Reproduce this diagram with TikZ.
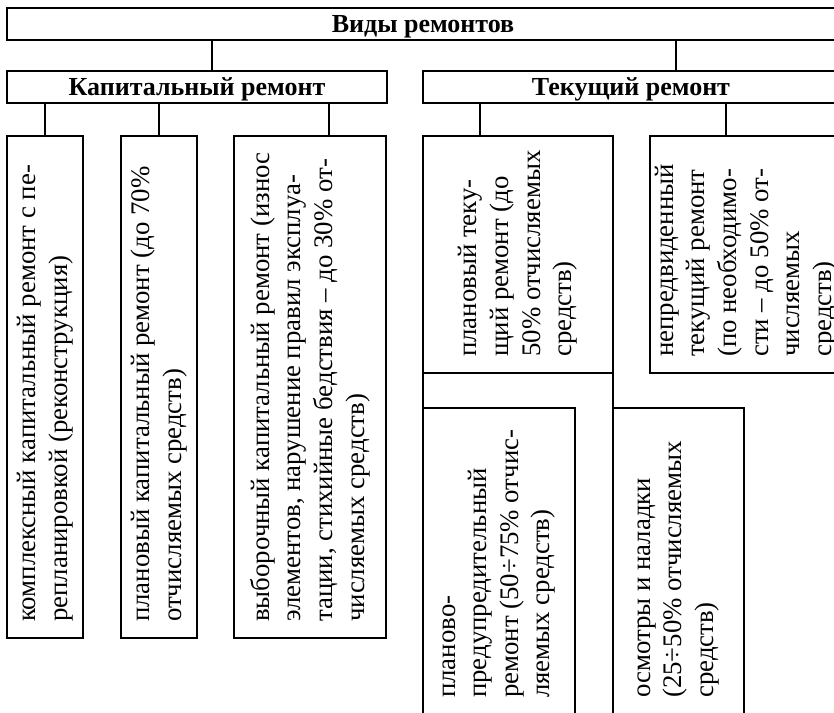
\documentclass[tikz,border=0pt]{standalone}
\usepackage{fontspec}
\setmainfont{Liberation Serif}
\newlength{\du}
\setlength{\du}{1pt}
\tikzset{
  blk/.style={draw, line width=2\du, inner sep=0pt, outer sep=0pt},
  ttl/.style={blk, text depth=0pt, font=\fontsize{26}{30}\selectfont\bfseries},
  vtxt/.style={rotate=90, anchor=west, align=left, inner sep=0pt,
    font=\fontsize{26.8}{31.6}\selectfont},
  con/.style={line width=2\du}
}

\begin{document}
\begin{tikzpicture}
\useasboundingbox (0\du,0\du) rectangle (834\du,712\du);
\clip (0\du,0\du) rectangle (834\du,712\du);
% titles
\node[ttl, minimum width=832\du, minimum height=32\du] (vid) at (423\du,688\du) {Виды ремонтов};
\node[ttl, minimum width=380\du, minimum height=32\du] (kap) at (197\du,625\du) {Капитальный ремонт};
\node[ttl, minimum width=416\du, minimum height=32\du] (tek) at (631\du,625\du) {Текущий ремонт};
% capital repair boxes
\node[blk, minimum width=76\du, minimum height=502\du] (k1) at (45\du,325\du) {};
\node[blk, minimum width=76\du, minimum height=502\du] (k2) at (159\du,325\du) {};
\node[blk, minimum width=152\du, minimum height=502\du] (k3) at (310\du,325\du) {};
% current repair boxes
\node[blk, minimum width=190\du, minimum height=237\du] (k4) at (518\du,457.5\du) {};
\node[blk, minimum width=192\du, minimum height=237\du] (k5) at (746\du,457.5\du) {};
\node[blk, minimum width=152\du, minimum height=306\du] (k6) at (499\du,151\du) {};
\node[blk, minimum width=131\du, minimum height=306\du] (k7) at (678.5\du,151\du) {};
% texts
\node[vtxt] (k1t) at ([yshift=16\du]k1.south) {комплексный капитальный ремонт с пе-\\репланировкой (реконструкция)};
\node[vtxt] (k2t) at ([yshift=16\du]k2.south) {плановый капитальный ремонт (до 70\%\\отчисляемых средств)};
\node[vtxt] (k3t) at ([yshift=16\du]k3.south) {выборочный капитальный ремонт (износ\\элементов, нарушение правил эксплуа-\\тации, стихийные бедствия – до 30\% от-\\числяемых средств)};
\node[vtxt] (k4t) at ([yshift=16\du]k4.south) {плановый теку-\\щий ремонт (до\\50\% отчисляемых\\средств)};
\node[vtxt] (k5t) at ([yshift=16\du]k5.south) {непредвиденный\\текущий ремонт\\(по необходимо-\\сти – до 50\% от-\\числяемых\\средств)};
\node[vtxt] (k6t) at ([yshift=16\du]k6.south) {планово-\\предупредительный\\ремонт (50÷75\% отчис-\\ляемых средств)};
\node[vtxt] (k7t) at ([yshift=16\du]k7.south) {осмотры и наладки\\(25÷50\% отчисляемых\\средств)};
% connectors
\draw[con] ([xshift=15\du]kap.north) -- ([xshift=15\du]kap.north |- vid.south);
\draw[con] ([xshift=45\du]tek.north) -- ([xshift=45\du]tek.north |- vid.south);
\draw[con] (k1.north) -- (k1.north |- kap.south);
\draw[con] (k2.north) -- (k2.north |- kap.south);
\draw[con] ([xshift=19\du]k3.north) -- ([xshift=19\du]k3.north |- kap.south);
\draw[con] ([xshift=-38\du]k4.north) -- ([xshift=-38\du]k4.north |- tek.south);
\draw[con] ([xshift=-20\du]k5.north) -- ([xshift=-20\du]k5.north |- tek.south);
\draw[con] (k4.south west) -- (k6.north west);
\draw[con] (k4.south east) -- (k7.north west);
\end{tikzpicture}
\end{document}
